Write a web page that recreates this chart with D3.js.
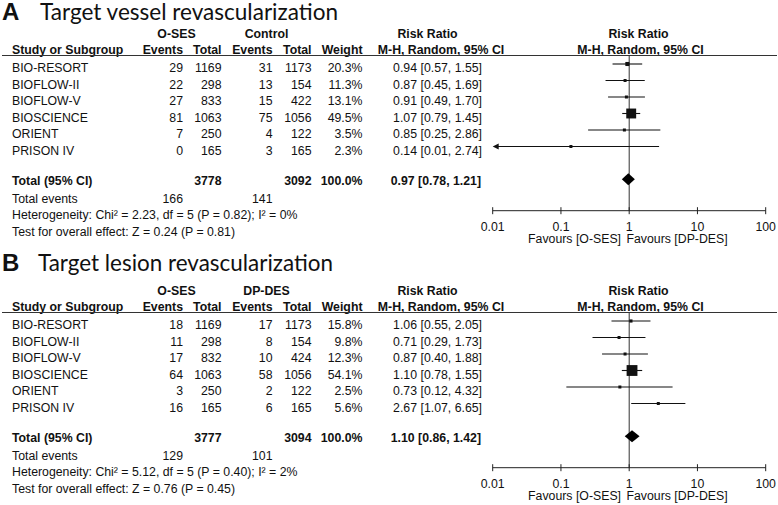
<!DOCTYPE html>
<html><head><meta charset="utf-8">
<script src="https://cdn.jsdelivr.net/npm/d3@7"></script>
<style>
html,body{margin:0;padding:0;background:#fff;}
svg text{font-family:"Liberation Sans",Arial,sans-serif;fill:#111;}
</style></head>
<body><svg id="c" width="778" height="505"></svg>
<script>
// ---- shared
const studies = ["BIO-RESORT","BIOFLOW-II","BIOFLOW-V","BIOSCIENCE","ORIENT","PRISON IV"];
const axisTicks = [0.01, 0.1, 1, 10, 100];
const axisTickLabels = ["0.01","0.1","1","10","100"];

// ---- Panel A: Target vessel revascularization
const tvrEvents1 = [29,22,27,81,7,0];
const tvrTotal1  = [1169,298,833,1063,250,165];
const tvrEvents2 = [31,13,15,75,4,3];
const tvrTotal2  = [1173,154,422,1056,122,165];
const tvrWeight  = [20.3,11.3,13.1,49.5,3.5,2.3];
const tvrRR      = [0.94,0.87,0.91,1.07,0.85,0.14];
const tvrLo      = [0.57,0.45,0.49,0.79,0.25,0.01];
const tvrHi      = [1.55,1.69,1.70,1.45,2.86,2.74];
const tvrTotals  = [3778,3092,100.0];      // total1, total2, weight
const tvrPooled  = [0.97,0.78,1.21];       // rr, lo, hi
const tvrTotalEvents = [166,141];
const tvrHet  = "Heterogeneity: Chi\u00b2 = 2.23, df = 5 (P = 0.82); I\u00b2 = 0%";
const tvrTest = "Test for overall effect: Z = 0.24 (P = 0.81)";

// ---- Panel B: Target lesion revascularization
const tlrEvents1 = [18,11,17,64,3,16];
const tlrTotal1  = [1169,298,832,1063,250,165];
const tlrEvents2 = [17,8,10,58,2,6];
const tlrTotal2  = [1173,154,424,1056,122,165];
const tlrWeight  = [15.8,9.8,12.3,54.1,2.5,5.6];
const tlrRR      = [1.06,0.71,0.87,1.10,0.73,2.67];
const tlrLo      = [0.55,0.29,0.40,0.78,0.12,1.07];
const tlrHi      = [2.05,1.73,1.88,1.55,4.32,6.65];
const tlrTotals  = [3777,3094,100.0];
const tlrPooled  = [1.10,0.86,1.42];
const tlrTotalEvents = [129,101];
const tlrHet  = "Heterogeneity: Chi\u00b2 = 5.12, df = 5 (P = 0.40); I\u00b2 = 2%";
const tlrTest = "Test for overall effect: Z = 0.76 (P = 0.45)";

const svg = d3.select("#c");
svg.append("rect").attr("width",778).attr("height",505).attr("fill","#fff");

const x = d3.scaleLog().domain([0.01,100]).range([492.7,765.7]);
const row = d3.scaleLinear().domain([0,5]).range([64,146.5]);
const sq = d3.scaleLinear().domain([0,50]).range([0,10]);
const f2 = d3.format(".2f");
const f1 = d3.format(".1f");
const rrText = (r,l,h) => `${f2(r)} [${f2(l)}, ${f2(h)}]`;

function panel(cfg){
  const g = svg.append("g").attr("transform",`translate(0,${cfg.dy})`);
  // title
  const t = svg.append("g");
  t.append("text").attr("x",2).attr("y",cfg.titleY).attr("font-size",24).attr("font-weight","bold")
    .style("font-family","'Liberation Sans',Arial").text(cfg.letter);
  t.append("text").attr("x",cfg.titleX).attr("y",cfg.titleY).attr("font-size",23)
    .style("font-family","Lato,'Open Sans',sans-serif")
    .attr("textLength",cfg.titleW).attr("lengthAdjust","spacingAndGlyphs").text(cfg.title);

  const fs = 12.3;
  const txt = (xx,yy,s,anchor,bold) => g.append("text").attr("x",xx).attr("y",yy)
      .attr("font-size",fs).attr("text-anchor",anchor||"start")
      .attr("font-weight",bold?"bold":"normal").text(s);
  // headers
  txt(176.5,38,"O-SES","middle",true);
  txt(266.5,38,cfg.ctrlName,"middle",true);
  txt(427.5,38,"Risk Ratio","middle",true);
  txt(638.5,38,"Risk Ratio","middle",true);
  txt(12,54,"Study or Subgroup","start",true);
  txt(183,54,"Events","end",true);
  txt(221.5,54,"Total","end",true);
  txt(272.5,54,"Events","end",true);
  txt(311.5,54,"Total","end",true);
  txt(362.5,54,"Weight","end",true);
  txt(441,54,"M-H, Random, 95% CI","middle",true);
  txt(640.5,54,"M-H, Random, 95% CI","middle",true);
  g.append("line").attr("x1",2).attr("x2",777).attr("y1",55.5).attr("y2",55.5)
    .attr("stroke","#333").attr("stroke-width",1.2);

  // rows
  studies.forEach((s,i)=>{
    const yb = row(i)+8.4;
    txt(12,yb,s);
    txt(183,yb,cfg.e1[i],"end");
    txt(221.5,yb,cfg.n1[i],"end");
    txt(272.5,yb,cfg.e2[i],"end");
    txt(311.5,yb,cfg.n2[i],"end");
    txt(362.5,yb,f1(cfg.w[i])+"%","end");
    txt(482,yb,rrText(cfg.rr[i],cfg.lo[i],cfg.hi[i]),"end");
  });
  // totals
  txt(12,184.5,"Total (95% CI)","start",true);
  txt(221.5,184.5,cfg.totals[0],"end",true);
  txt(311.5,184.5,cfg.totals[1],"end",true);
  txt(362.5,184.5,f1(cfg.totals[2])+"%","end",true);
  txt(481,184.5,rrText(cfg.pooled[0],cfg.pooled[1],cfg.pooled[2]),"end",true);
  txt(12,202.5,"Total events");
  txt(183,202.5,cfg.te[0],"end");
  txt(272.5,202.5,cfg.te[1],"end");
  txt(12,219,cfg.het);
  txt(12,235.5,cfg.test);

  // plot: reference line at 1
  g.append("line").attr("x1",x(1)).attr("x2",x(1)).attr("y1",55.5).attr("y2",210.7)
    .attr("stroke","#333").attr("stroke-width",1);
  // CIs
  studies.forEach((s,i)=>{
    const yy = row(i);
    const lo = Math.max(cfg.lo[i],0.01), hi = Math.min(cfg.hi[i],100);
    const arrowL = cfg.lo[i] <= 0.01;
    g.append("line").attr("x1",x(lo)+(arrowL?3:0)).attr("x2",x(hi)).attr("y1",yy).attr("y2",yy)
      .attr("stroke","#111").attr("stroke-width",1.1);
    if(arrowL){
      const ax = x(0.01);
      g.append("path").attr("d",`M${ax},${yy} L${ax+6},${yy-3} L${ax+6},${yy+3} Z`).attr("fill","#111");
    }
    const s2 = Math.max(3, sq(cfg.w[i]));
    g.append("rect").attr("x",x(cfg.rr[i])-s2/2).attr("y",yy-s2/2).attr("width",s2).attr("height",s2)
      .attr("fill","#111");
  });
  // diamond
  const dyc = 179.3, hh = 6;
  const [pr,pl,ph] = cfg.pooled;
  g.append("path").attr("d",`M${x(pl)},${dyc} L${x(pr)},${dyc-hh} L${x(ph)},${dyc} L${x(pr)},${dyc+hh} Z`)
    .attr("fill","#000");
  // axis
  const ax = g.append("g").attr("transform","translate(0,210.7)");
  ax.append("line").attr("x1",x(0.01)).attr("x2",x(100)).attr("stroke","#222");
  ax.selectAll("line.tk").data(axisTicks).join("line").attr("class","tk")
    .attr("x1",d=>x(d)).attr("x2",d=>x(d)).attr("y1",-3.5).attr("y2",3.5).attr("stroke","#222");
  ax.selectAll("text").data(axisTicks).join("text")
    .attr("x",d=>x(d)).attr("y",20.3).attr("text-anchor","middle").attr("font-size",fs)
    .text((d,i)=>axisTickLabels[i]);
  txt(621,242.5,"Favours [O-SES]","end");
  txt(626.5,242.5,"Favours [DP-DES]","start");
}

panel({dy:0, letter:"A", title:"Target vessel revascularization", titleX:40, titleY:19.5, titleW:298,
  ctrlName:"Control", e1:tvrEvents1, n1:tvrTotal1, e2:tvrEvents2, n2:tvrTotal2, w:tvrWeight,
  rr:tvrRR, lo:tvrLo, hi:tvrHi, totals:tvrTotals, pooled:tvrPooled, te:tvrTotalEvents, het:tvrHet, test:tvrTest});
panel({dy:257, letter:"B", title:"Target lesion revascularization", titleX:38, titleY:271, titleW:295,
  ctrlName:"DP-DES", e1:tlrEvents1, n1:tlrTotal1, e2:tlrEvents2, n2:tlrTotal2, w:tlrWeight,
  rr:tlrRR, lo:tlrLo, hi:tlrHi, totals:tlrTotals, pooled:tlrPooled, te:tlrTotalEvents, het:tlrHet, test:tlrTest});
</script></body></html>
